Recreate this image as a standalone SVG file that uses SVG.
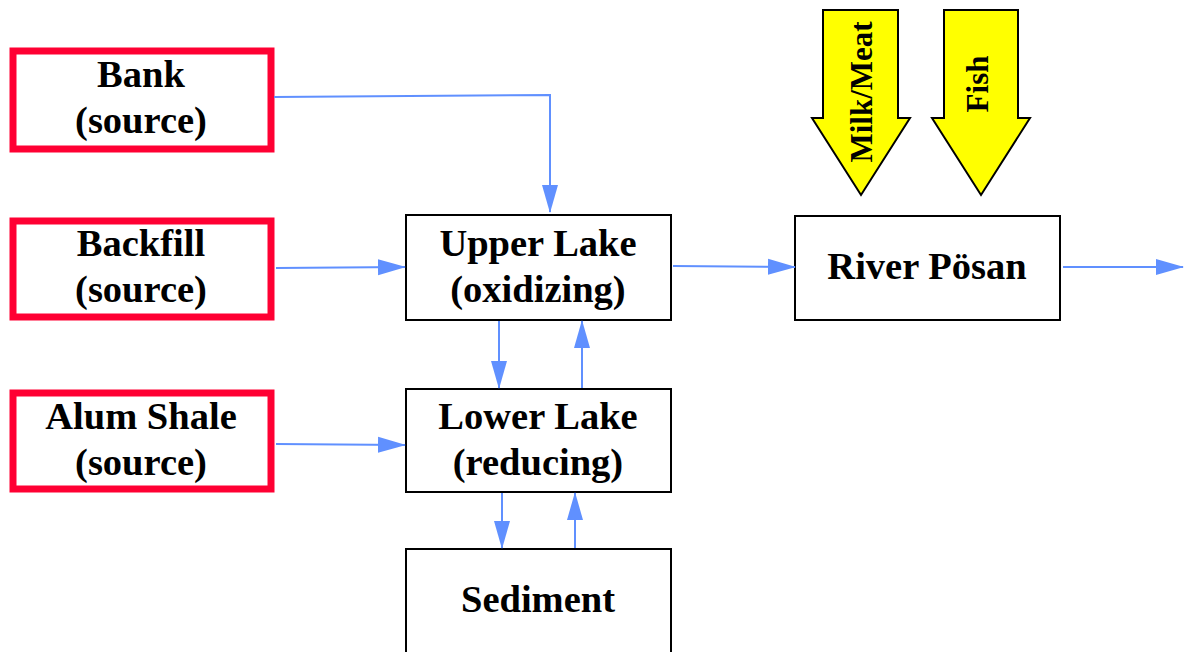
<svg xmlns="http://www.w3.org/2000/svg" width="1190" height="652" viewBox="0 0 1190 652">
  <style>
    .src { fill: #ffffff; stroke: #ff0033; stroke-width: 7; }
    .box { fill: #ffffff; stroke: #000000; stroke-width: 2; }
    .food { fill: #ffff00; stroke: #000000; stroke-width: 2; stroke-linejoin: miter; }
    .lbl { font-family: "Liberation Serif", "Times New Roman", serif; font-weight: bold; font-size: 38.5px; fill: #000000; text-anchor: middle; }
    .flbl { font-family: "Liberation Serif", "Times New Roman", serif; font-weight: bold; font-size: 31px; fill: #000000; text-anchor: middle; }
    .conn { fill: none; stroke: #6090ff; stroke-width: 2; }
  </style>
  <defs>
    <marker id="arrow" markerUnits="userSpaceOnUse" markerWidth="28" markerHeight="18" viewBox="0 0 28 18" refX="27" refY="9" orient="auto">
      <path d="M0,1 L28,9 L0,17 Z" fill="#6090ff"/>
    </marker>
  </defs>

  <rect width="1190" height="652" fill="#ffffff"/>

  <!-- source nodes -->
  <g id="bank">
    <rect class="src" x="13" y="51" width="258" height="98"/>
    <text class="lbl" x="141" y="87">Bank</text>
    <text class="lbl" x="141" y="133">(source)</text>
  </g>
  <g id="backfill">
    <rect class="src" x="13" y="221" width="258" height="96"/>
    <text class="lbl" x="141" y="256">Backfill</text>
    <text class="lbl" x="141" y="302">(source)</text>
  </g>
  <g id="alum-shale">
    <rect class="src" x="13" y="393" width="258" height="96"/>
    <text class="lbl" x="141" y="429">Alum Shale</text>
    <text class="lbl" x="141" y="475">(source)</text>
  </g>

  <!-- lake compartments -->
  <g id="upper-lake">
    <rect class="box" x="406" y="215" width="265" height="105"/>
    <text class="lbl" x="538" y="256">Upper Lake</text>
    <text class="lbl" x="538" y="302">(oxidizing)</text>
  </g>
  <g id="lower-lake">
    <rect class="box" x="406" y="389" width="265" height="103"/>
    <text class="lbl" x="538" y="429">Lower Lake</text>
    <text class="lbl" x="538" y="475">(reducing)</text>
  </g>
  <g id="sediment">
    <rect class="box" x="406" y="549" width="265" height="110"/>
    <text class="lbl" x="538" y="612">Sediment</text>
  </g>
  <g id="river-posan">
    <rect class="box" x="795" y="216" width="265" height="104"/>
    <text class="lbl" x="927" y="279">River Pösan</text>
  </g>

  <!-- food pathways -->
  <g id="milk-meat">
    <path class="food" d="M823,10 L898,10 L898,118 L910,118 L861,195 L812,118 L823,118 Z"/>
    <text class="flbl" transform="translate(872,92) rotate(-90)">Milk/Meat</text>
  </g>
  <g id="fish">
    <path class="food" d="M944,10 L1018,10 L1018,118 L1030,118 L981,195 L932,118 L944,118 Z"/>
    <text class="flbl" transform="translate(988,84) rotate(-90)">Fish</text>
  </g>

  <!-- connectors -->
  <g id="connectors">
    <path class="conn" d="M274,97 L550,95 L550,212" marker-end="url(#arrow)"/>
    <path class="conn" d="M276,268 L405,267" marker-end="url(#arrow)"/>
    <path class="conn" d="M276,444 L405,445" marker-end="url(#arrow)"/>
    <path class="conn" d="M673,266 L795,267" marker-end="url(#arrow)"/>
    <path class="conn" d="M1063,267 L1183,267" marker-end="url(#arrow)"/>
    <path class="conn" d="M499,321 L499,388" marker-end="url(#arrow)"/>
    <path class="conn" d="M582,388 L582,321" marker-end="url(#arrow)"/>
    <path class="conn" d="M502,493 L502,548" marker-end="url(#arrow)"/>
    <path class="conn" d="M575,548 L575,493" marker-end="url(#arrow)"/>
  </g>
</svg>
